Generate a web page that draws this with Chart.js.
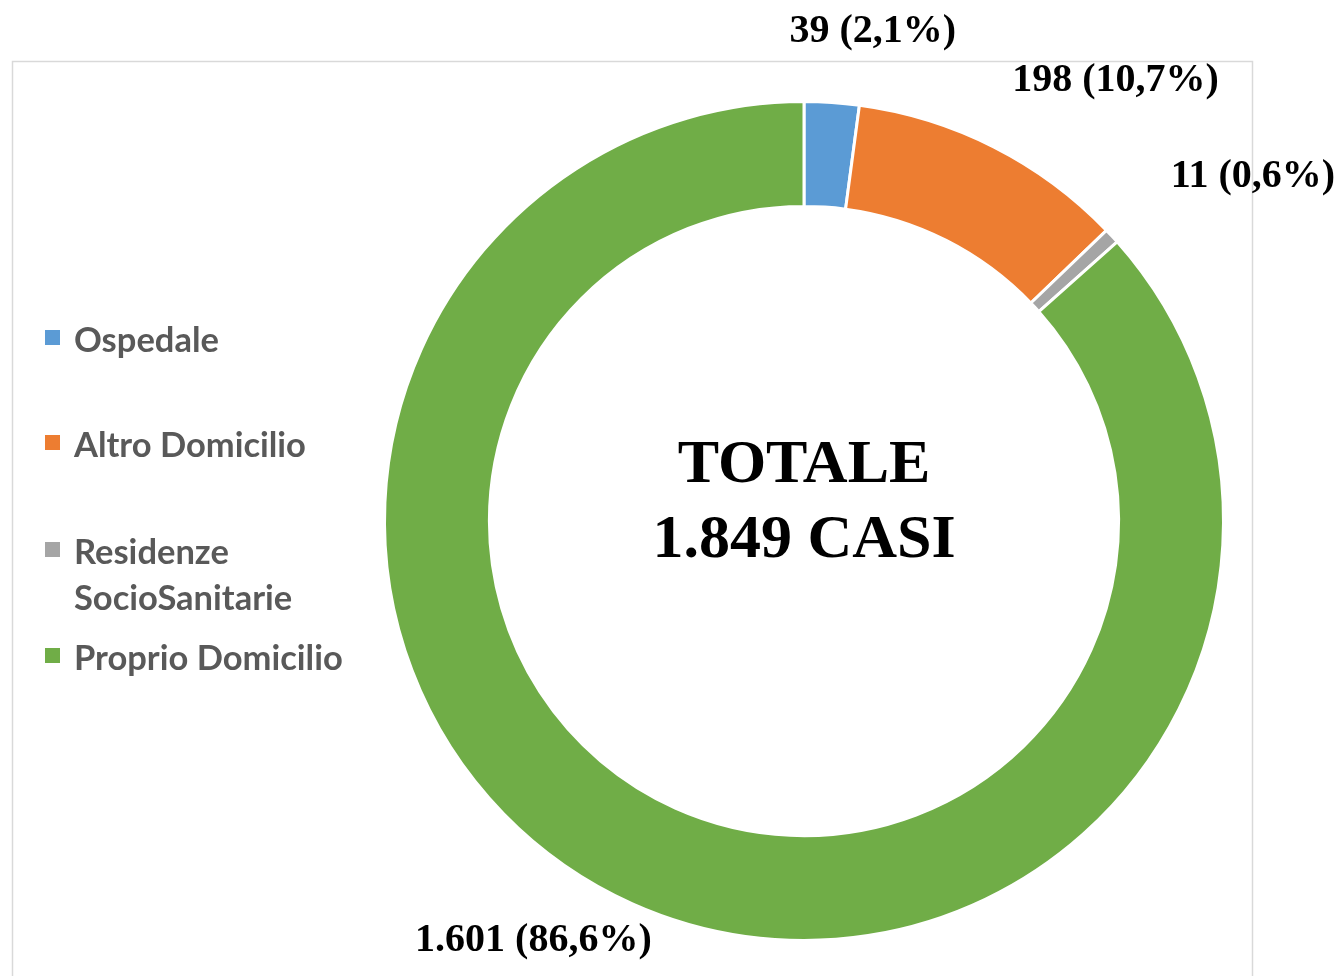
<!DOCTYPE html>
<html>
<head>
<meta charset="utf-8">
<script src="https://cdn.jsdelivr.net/npm/chart.js@4/dist/chart.umd.min.js"></script>
<style>
  html, body { margin: 0; padding: 0; background: #ffffff; }
  #wrap { width: 1339px; height: 976px; }
</style>
</head>
<body>
<div id="wrap"><canvas id="c" width="1339" height="976"></canvas></div>
<script>
const categories = ['Ospedale', 'Altro Domicilio', 'Residenze SocioSanitarie', 'Proprio Domicilio'];
const values = [39, 198, 11, 1601];
const colors = ['#5B9BD5', '#ED7D31', '#A5A5A5', '#70AD47'];
const centerTitle = 'TOTALE';
const centerUnit = 'CASI';

function fmtInt(n) {
  return String(n).replace(/\B(?=(\d{3})+(?!\d))/g, '.');
}
function fmtPct(v) {
  return v.toFixed(1).replace('.', ',');
}
const total = values.reduce((a, b) => a + b, 0);

const SERIF = '"Liberation Serif", "DejaVu Serif", serif';
const SANS = 'Lato, "Open Sans", sans-serif';

// label offsets (style) relative to each arc's outer mid point, to text baseline centre
const labelOffsets = [[41, -60], [122, -56], [141, -49], [-99, 47]];
// legend row positions (style)
const legendRows = [352, 457, 564, 670];

const overlay = {
  id: 'overlay',
  beforeDraw(chart) {
    const ctx = chart.ctx;
    ctx.save();
    ctx.fillStyle = '#ffffff';
    ctx.fillRect(0, 0, chart.width, chart.height);
    ctx.strokeStyle = '#D9D9D9';
    ctx.lineWidth = 1.5;
    ctx.strokeRect(12.5, 61.5, 1240, 1000);
    ctx.restore();
  },
  afterDraw(chart) {
    const ctx = chart.ctx;
    const meta = chart.getDatasetMeta(0);
    ctx.save();
    // data labels
    ctx.font = 'bold 40px ' + SERIF;
    ctx.fillStyle = '#000000';
    ctx.textAlign = 'center';
    ctx.textBaseline = 'alphabetic';
    meta.data.forEach((arc, i) => {
      const p = arc.getProps(['x', 'y', 'startAngle', 'endAngle', 'outerRadius'], true);
      const mid = (p.startAngle + p.endAngle) / 2;
      const ox = p.x + p.outerRadius * Math.cos(mid);
      const oy = p.y + p.outerRadius * Math.sin(mid);
      const txt = fmtInt(values[i]) + ' (' + fmtPct(values[i] / total * 100) + '%)';
      ctx.fillText(txt, ox + labelOffsets[i][0], oy + labelOffsets[i][1]);
    });
    // centre text
    const c = meta.data[0].getProps(['x', 'y'], true);
    ctx.font = 'bold 62px ' + SERIF;
    ctx.fillText(centerTitle, c.x, c.y - 39);
    ctx.fillText(fmtInt(total) + ' ' + centerUnit, c.x, c.y + 36);
    // legend
    ctx.textAlign = 'left';
    ctx.font = 'bold 34.5px ' + SANS;
    categories.forEach((name, i) => {
      const base = legendRows[i];
      ctx.fillStyle = colors[i];
      ctx.fillRect(45, base - 22, 15, 15);
      ctx.fillStyle = '#595959';
      let lines = [name];
      if (ctx.measureText(name).width > 320) {
        const idx = name.lastIndexOf(' ');
        lines = [name.slice(0, idx), name.slice(idx + 1)];
      }
      lines.forEach((ln, k) => ctx.fillText(ln, 74, base + k * 46));
    });
    ctx.restore();
  }
};

new Chart(document.getElementById('c'), {
  type: 'doughnut',
  data: {
    labels: categories,
    datasets: [{
      data: values,
      backgroundColor: colors,
      borderColor: '#ffffff',
      borderWidth: 3
    }]
  },
  options: {
    responsive: false,
    animation: false,
    cutout: '75%',
    layout: { padding: { left: 383, right: 114, top: 100, bottom: 34 } },
    plugins: {
      legend: { display: false },
      tooltip: { enabled: false }
    }
  },
  plugins: [overlay]
});
</script>
</body>
</html>
